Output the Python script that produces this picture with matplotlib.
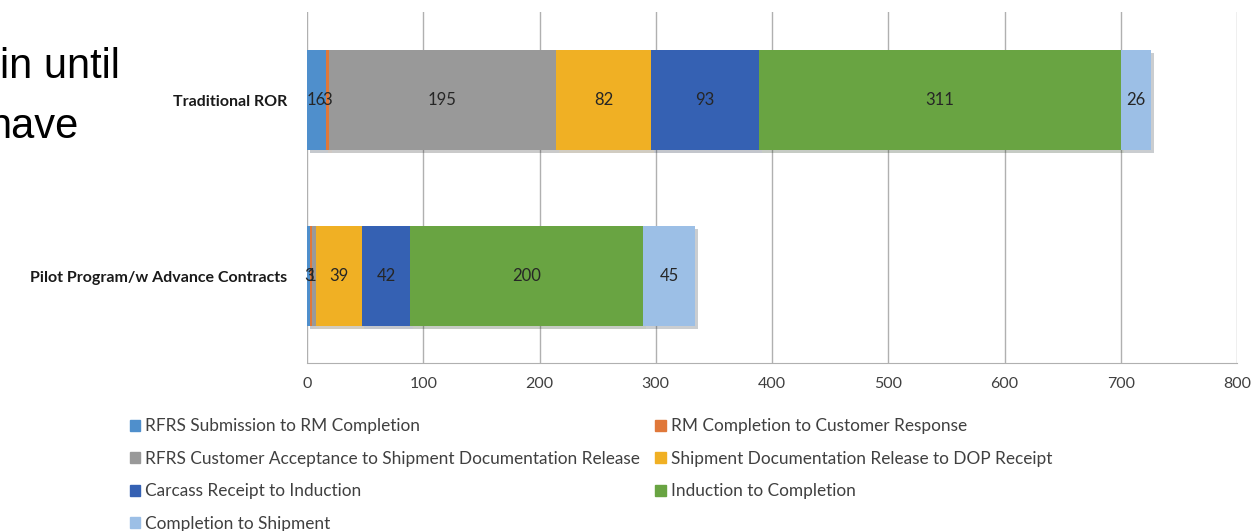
import matplotlib
matplotlib.use("Agg")
import matplotlib.pyplot as plt
import matplotlib.patches as mpatches
import matplotlib.patheffects as pe

# categories (bottom to top)
categories = ["Pilot Program/w Advance Contracts", "Traditional ROR"]

series_names = [
    "RFRS Submission to RM Completion",
    "RM Completion to Customer Response",
    "RFRS Customer Acceptance to Shipment Documentation Release",
    "Shipment Documentation Release to DOP Receipt",
    "Carcass Receipt to Induction",
    "Induction to Completion",
    "Completion to Shipment",
]

# values per series: [pilot, traditional]
rfrs_sub = [3, 16]
rm_resp = [1, 3]
cust_accept = [4, 195]
ship_doc = [39, 82]
carcass = [42, 93]
induction = [200, 311]
completion = [45, 26]

# labels shown on the bars (None = hidden)
labels_pilot = ["3", "1", None, "39", "42", "200", "45"]
labels_trad = ["16", "3", "195", "82", "93", "311", "26"]

colors = ["#4f8fcc", "#e0783a", "#999999", "#f0b024",
          "#3561b3", "#69a442", "#9cbfe6"]

x_ticks = [0, 100, 200, 300, 400, 500, 600, 700, 800]

plt.rcParams["font.family"] = ["Lato", "DejaVu Sans"]

fig = plt.figure(figsize=(12.51, 5.31), dpi=100)
ax = fig.add_axes([307 / 1251, 1 - 363 / 531, 930 / 1251, 351 / 531])

all_vals = [rfrs_sub, rm_resp, cust_accept, ship_doc, carcass, induction, completion]
y = [0, 1]
left = [0, 0]
shadow = [pe.SimplePatchShadow(offset=(2, -2), alpha=0.25), pe.Normal()]
for i, vals in enumerate(all_vals):
    bars = ax.barh(y, vals, left=left, height=0.57, color=colors[i],
                   edgecolor="none", zorder=3)
    for b in bars:
        b.set_path_effects(shadow)
    for j, (v, l0) in enumerate(zip(vals, left)):
        lab = labels_pilot[i] if j == 0 else labels_trad[i]
        if lab is not None:
            ax.text(l0 + v / 2, y[j], lab, ha="center", va="center",
                    fontsize=12, color="#262626", zorder=5)
    left = [a + b for a, b in zip(left, vals)]

ax.set_xlim(0, 800)
ax.set_ylim(-0.494, 1.5)
ax.set_xticks(x_ticks)
ax.set_xticklabels([str(t) for t in x_ticks], fontsize=11.5, color="#404040")
ax.set_yticks(y)
ax.set_yticklabels(categories, fontsize=11.5, fontweight="bold", color="#1a1a1a")
ax.tick_params(axis="x", length=0, pad=10)
ax.tick_params(axis="y", length=0, pad=14)
ax.grid(True, axis="x", color="#b0b0b0", linewidth=1, zorder=0)
for s in ["top", "right", "left"]:
    ax.spines[s].set_visible(False)
ax.spines["bottom"].set_color("#b0b0b0")

# legend in row order, two columns
order = [0, 2, 4, 6, 1, 3, 5]
handles = [mpatches.Patch(color=colors[k]) for k in order]
names = [series_names[k] for k in order]
fig.legend(handles, names, loc="upper left", bbox_to_anchor=(114 / 1251, 1 - 403 / 531),
           ncol=2, frameon=False, fontsize=12.4, handlelength=0.6, handleheight=0.6,
           handletextpad=0.3, columnspacing=0.9, labelspacing=0.95,
           labelcolor="#404040")

# slide text cut off on the left
fig.text(0, 1 - 78 / 531, "in until", fontsize=30, family="Liberation Sans",
         color="black", va="baseline")
fig.text(-12 / 1251, 1 - 138 / 531, "have", fontsize=30, family="Liberation Sans",
         color="black", va="baseline")

fig.savefig("out.png", dpi=100)
